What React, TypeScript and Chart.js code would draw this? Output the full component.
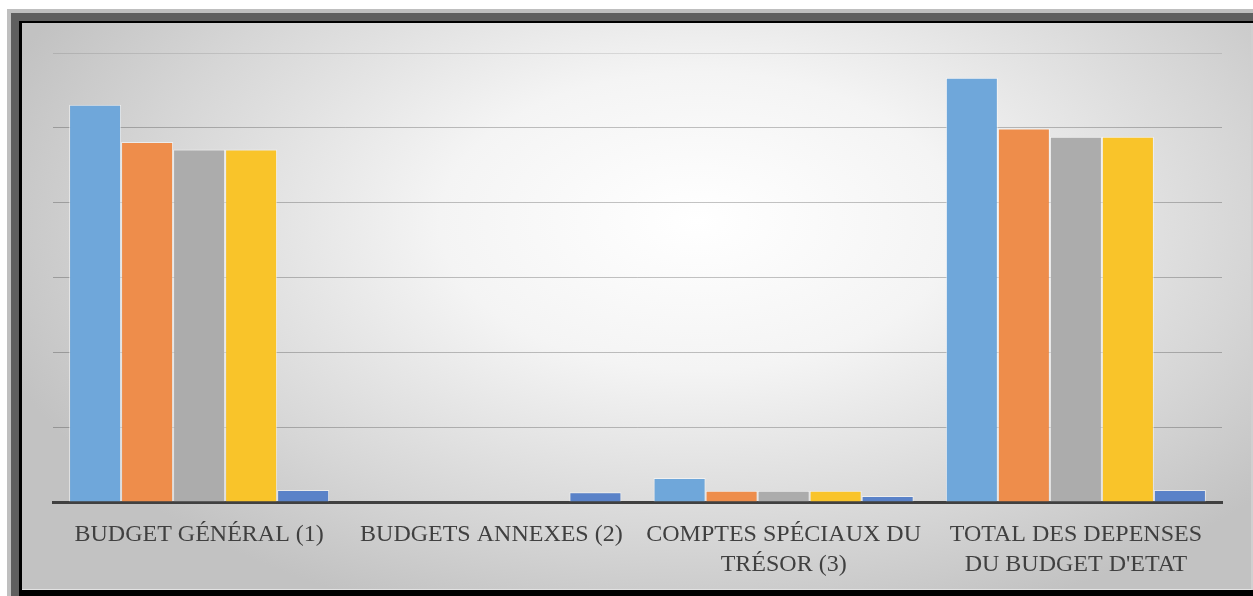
import React, { useEffect, useRef } from "react";
import { Chart, registerables } from "chart.js";

Chart.register(...registerables);

const categories: (string | string[])[] = [
  "BUDGET GÉNÉRAL (1)",
  "BUDGETS ANNEXES (2)",
  ["COMPTES SPÉCIAUX DU", "TRÉSOR (3)"],
  ["TOTAL DES DEPENSES", "DU BUDGET D'ETAT"],
];

const series1 = [5.31, 0, 0.32, 5.67];
const series2 = [4.81, 0, 0.15, 4.99];
const series3 = [4.71, 0, 0.15, 4.88];
const series4 = [4.71, 0, 0.15, 4.88];
const series5 = [0.16, 0.13, 0.08, 0.16];

const seriesNames = ["Série 1", "Série 2", "Série 3", "Série 4", "Série 5"];
const seriesColors = ["#6fa7da", "#ee8d4b", "#acacac", "#f9c42a", "#5a82c8"];

const yMax = 6;

export default function App() {
  const canvasRef = useRef<HTMLCanvasElement | null>(null);

  useEffect(() => {
    if (!canvasRef.current) return;
    const data = [series1, series2, series3, series4, series5];
    const chart = new Chart(canvasRef.current, {
      type: "bar",
      data: {
        labels: categories,
        datasets: data.map((d, i) => ({
          label: seriesNames[i],
          data: d,
          backgroundColor: seriesColors[i],
          borderColor: "rgba(255,255,255,0.55)",
          borderWidth: 1,
          categoryPercentage: 0.89,
          barPercentage: 1.0,
        })),
      },
      options: {
        animation: false,
        responsive: false,
        maintainAspectRatio: false,
        layout: { padding: { left: 53, right: 31, top: 53, bottom: 0 } },
        plugins: {
          legend: { display: false },
          tooltip: { enabled: false },
        },
        scales: {
          x: {
            grid: { display: false },
            border: { display: true, color: "#404040", width: 3 },
            ticks: {
              color: "#404040",
              font: { family: "Liberation Serif", size: 24, lineHeight: 1.25 },
              padding: 10,
              maxRotation: 0,
              autoSkip: false,
            },
            afterFit: (s: any) => {
              s.height = 94;
            },
          },
          y: {
            min: 0,
            max: yMax,
            ticks: { display: false, stepSize: 1 },
            grid: {
              color: (ctx: any) =>
                ctx.tick && ctx.tick.value === yMax ? "rgba(0,0,0,0.1)" : "rgba(0,0,0,0.23)",
              lineWidth: 1,
              drawTicks: false,
            },
            border: { display: false },
            afterFit: (s: any) => {
              s.width = 0;
            },
          },
        },
      },
    });
    return () => chart.destroy();
  }, []);

  return (
    <div style={{ position: "fixed", left: 0, top: 0, width: 1253, height: 596, background: "#ffffff", overflow: "hidden" }}>
      <div style={{ position: "absolute", left: 7, top: 9, width: 1246, height: 587, background: "#bfbfbf" }} />
      <div style={{ position: "absolute", left: 11, top: 13, width: 1242, height: 583, background: "#5f5f5f" }} />
      <div style={{ position: "absolute", left: 19, top: 21, width: 1234, height: 575, background: "#000000" }} />
      <div
        style={{
          position: "absolute",
          left: 22,
          top: 23,
          width: 1229,
          height: 566,
          background: "radial-gradient(ellipse 60% 75% at 55% 35%, #ffffff 0%, #f4f4f4 35%, #d6d6d6 75%, #c2c2c2 100%)",
          borderBottom: "1px solid #e2e2e2",
          borderRight: "2px solid #d0d0d0",
        }}
      />
      <canvas ref={canvasRef} width={1253} height={596} style={{ position: "absolute", left: 0, top: 0 }} />
    </div>
  );
}
